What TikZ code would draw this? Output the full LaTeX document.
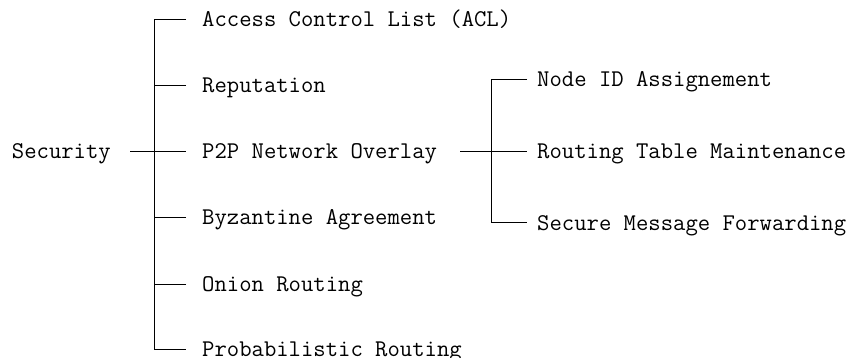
\documentclass[tikz,border=0pt]{standalone}
\begin{document}
\begin{tikzpicture}[x=1pt,y=-1pt,
  every node/.style={font=\ttfamily\fontsize{24}{28}\selectfont, text height=14pt, text depth=0pt, inner ysep=0pt},
  root/.style={anchor=east, inner xsep=19pt},
  leaf/.style={anchor=west, inner xsep=16pt},
  subleaf/.style={anchor=west, inner xsep=10pt},
  wire/.style={draw=black, line width=1pt}]
\useasboundingbox (0,0) rectangle (854,358);

% root
\node[root] (sec) at (130,152) {Security};

% first level
\node[leaf] (acl)  at (186,20)  {Access Control List (ACL)};
\node[leaf] (rep)  at (186,86)  {Reputation};
\node[leaf] (p2p)  at (186,152) {P2P Network Overlay};
\node[leaf] (byz)  at (186,218) {Byzantine Agreement};
\node[leaf] (onion) at (186,284) {Onion Routing};
\node[leaf] (prob) at (186,349) {Probabilistic Routing};

% second level under the overlay
\node[subleaf] (nid) at (527,80)  {Node ID Assignement};
\node[subleaf] (rtm) at (527,152) {Routing Table Maintenance};
\node[subleaf] (smf) at (527,223) {Secure Message Forwarding};

% first-level bracket
\draw[wire] (acl.west) -- ++(-32,0) |- (prob.west);
\foreach \n in {rep,byz,onion} \draw[wire] (\n.west) -- ++(-32,0);
\draw[wire] (sec.east) -- (p2p.west);

% second-level bracket
\draw[wire] (nid.west) -- ++(-36,0) |- (smf.west);
\draw[wire] ([xshift=7pt]p2p.east) -- (rtm.west);
\end{tikzpicture}
\end{document}
